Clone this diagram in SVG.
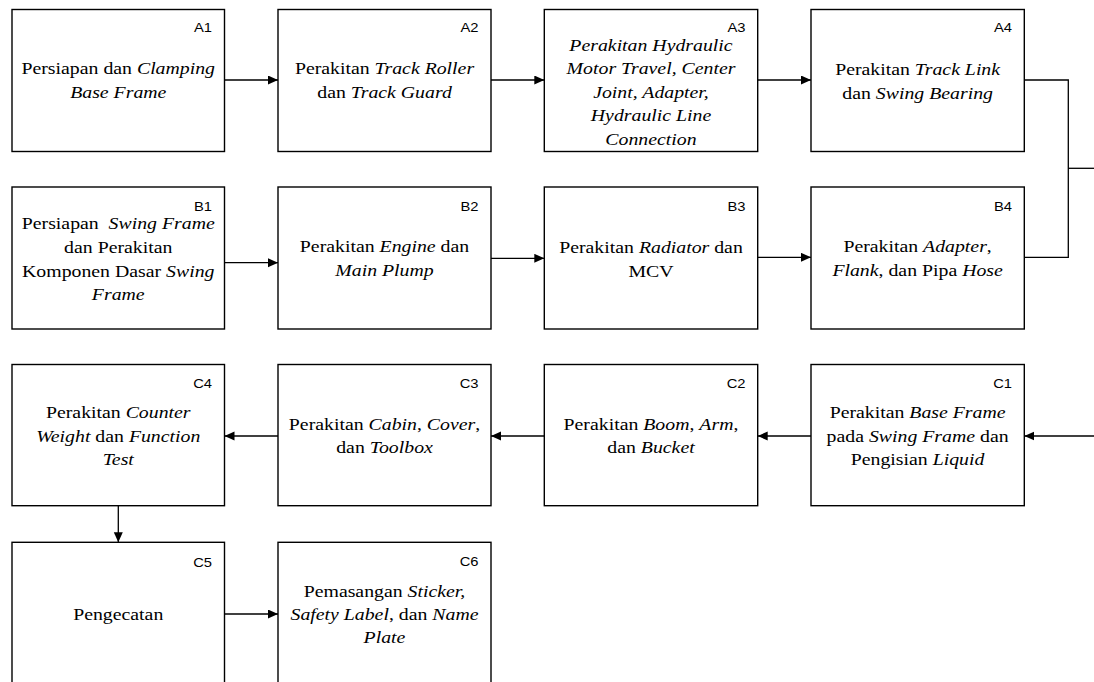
<svg xmlns="http://www.w3.org/2000/svg" width="1094" height="682" viewBox="0 0 1094 682">
<style>
rect.box{fill:#fff;stroke:#000;stroke-width:1.4}
.t{font-family:'Liberation Serif','DejaVu Serif',serif;font-size:16.5px;text-anchor:middle;fill:#000}
.i{font-style:italic}
.pre{white-space:pre}
.lbl{font-family:'Liberation Sans',Arial,sans-serif;font-size:12.3px;text-anchor:end;fill:#000}
.c{fill:none;stroke:#000;stroke-width:1.3}
</style>
<defs>
<marker id="ah" markerUnits="userSpaceOnUse" markerWidth="11" markerHeight="10" refX="10" refY="4.5" orient="auto">
<path d="M0,0 L10,4.5 L0,9 z" fill="#000"/>
</marker>
</defs>
<rect width="1094" height="682" fill="#fff"/>

<g id="connectors">
<path class="c" d="M224.5,80 H278" marker-end="url(#ah)"/>
<path class="c" d="M491,80 H544.3" marker-end="url(#ah)"/>
<path class="c" d="M757.7,80 H811" marker-end="url(#ah)"/>
<path class="c" d="M224.5,262.7 H278" marker-end="url(#ah)"/>
<path class="c" d="M491,258.3 H544.3" marker-end="url(#ah)"/>
<path class="c" d="M757.7,257.3 H811" marker-end="url(#ah)"/>
<path class="c" d="M1024.3,80 H1068.3 V257.3 H1024.3"/>
<path class="c" d="M1068.3,168.3 H1094"/>
<path class="c" d="M1094,436 H1024.3" marker-end="url(#ah)"/>
<path class="c" d="M811,436 H757.7" marker-end="url(#ah)"/>
<path class="c" d="M544.3,436 H491" marker-end="url(#ah)"/>
<path class="c" d="M278,436 H224.5" marker-end="url(#ah)"/>
<path class="c" d="M118.3,505.7 V542.3" marker-end="url(#ah)"/>
<path class="c" d="M224.5,614 H278" marker-end="url(#ah)"/>
</g>

<g id="A1">
<rect class="box" x="12" y="9.5" width="212.5" height="142"/>
<text class="lbl" transform="translate(212 32) scale(1.2 1)">A1</text>
<g class="t" transform="translate(118.25 0) scale(1.2 1)">
<text x="0" y="74">Persiapan dan <tspan class="i">Clamping</tspan></text>
<text x="0" y="98" class="i">Base Frame</text>
</g>
</g>

<g id="A2">
<rect class="box" x="278" y="9.5" width="213" height="142"/>
<text class="lbl" transform="translate(478.5 32) scale(1.2 1)">A2</text>
<g class="t" transform="translate(384.5 0) scale(1.2 1)">
<text x="0" y="74">Perakitan <tspan class="i">Track Roller</tspan></text>
<text x="0" y="98">dan <tspan class="i">Track Guard</tspan></text>
</g>
</g>

<g id="A3">
<rect class="box" x="544.3" y="9.5" width="213.4" height="142"/>
<text class="lbl" transform="translate(745.5 32) scale(1.2 1)">A3</text>
<g class="t" transform="translate(651 0) scale(1.2 1)">
<text x="0" y="51" class="i">Perakitan Hydraulic</text>
<text x="0" y="74.5" class="i">Motor Travel, Center</text>
<text x="0" y="98" class="i">Joint, Adapter,</text>
<text x="0" y="121.5" class="i">Hydraulic Line</text>
<text x="0" y="145" class="i">Connection</text>
</g>
</g>

<g id="A4">
<rect class="box" x="811" y="9.5" width="213.3" height="142"/>
<text class="lbl" transform="translate(1012 32) scale(1.2 1)">A4</text>
<g class="t" transform="translate(917.6 0) scale(1.2 1)">
<text x="0" y="75">Perakitan <tspan class="i">Track Link</tspan></text>
<text x="0" y="99">dan <tspan class="i">Swing Bearing</tspan></text>
</g>
</g>

<g id="B1">
<rect class="box" x="12" y="187" width="212.5" height="142"/>
<text class="lbl" transform="translate(212 210.5) scale(1.2 1)">B1</text>
<g class="t" transform="translate(118.25 0) scale(1.2 1)">
<text x="0" y="229" class="pre">Persiapan  <tspan class="i">Swing Frame</tspan></text>
<text x="0" y="253">dan Perakitan</text>
<text x="0" y="277">Komponen Dasar <tspan class="i">Swing</tspan></text>
<text x="0" y="300.5" class="i">Frame</text>
</g>
</g>

<g id="B2">
<rect class="box" x="278" y="187" width="213" height="142"/>
<text class="lbl" transform="translate(478.5 210.5) scale(1.2 1)">B2</text>
<g class="t" transform="translate(384.5 0) scale(1.2 1)">
<text x="0" y="252">Perakitan <tspan class="i">Engine</tspan> dan</text>
<text x="0" y="276" class="i">Main Plump</text>
</g>
</g>

<g id="B3">
<rect class="box" x="544.3" y="187" width="213.4" height="142"/>
<text class="lbl" transform="translate(745.5 210.5) scale(1.2 1)">B3</text>
<g class="t" transform="translate(651 0) scale(1.2 1)">
<text x="0" y="253">Perakitan <tspan class="i">Radiator</tspan> dan</text>
<text x="0" y="276.7">MCV</text>
</g>
</g>

<g id="B4">
<rect class="box" x="811" y="187" width="213.3" height="142"/>
<text class="lbl" transform="translate(1012 210.5) scale(1.2 1)">B4</text>
<g class="t" transform="translate(917.6 0) scale(1.2 1)">
<text x="0" y="252">Perakitan <tspan class="i">Adapter</tspan>,</text>
<text x="0" y="276.5"><tspan class="i">Flank</tspan>, dan Pipa <tspan class="i">Hose</tspan></text>
</g>
</g>

<g id="C1">
<rect class="box" x="811" y="364.5" width="213.3" height="141.2"/>
<text class="lbl" transform="translate(1012 387.5) scale(1.2 1)">C1</text>
<g class="t" transform="translate(917.6 0) scale(1.2 1)">
<text x="0" y="418.3">Perakitan <tspan class="i">Base Frame</tspan></text>
<text x="0" y="441.7">pada <tspan class="i">Swing Frame</tspan> dan</text>
<text x="0" y="465">Pengisian <tspan class="i">Liquid</tspan></text>
</g>
</g>

<g id="C2">
<rect class="box" x="544.3" y="364.5" width="213.4" height="141.2"/>
<text class="lbl" transform="translate(745.5 387.5) scale(1.2 1)">C2</text>
<g class="t" transform="translate(651 0) scale(1.2 1)">
<text x="0" y="430">Perakitan <tspan class="i">Boom</tspan>, <tspan class="i">Arm</tspan>,</text>
<text x="0" y="453.3">dan <tspan class="i">Bucket</tspan></text>
</g>
</g>

<g id="C3">
<rect class="box" x="278" y="364.5" width="213" height="141.2"/>
<text class="lbl" transform="translate(478.5 387.5) scale(1.2 1)">C3</text>
<g class="t" transform="translate(384.5 0) scale(1.2 1)">
<text x="0" y="430.5">Perakitan <tspan class="i">Cabin</tspan>, <tspan class="i">Cover</tspan>,</text>
<text x="0" y="453.3">dan <tspan class="i">Toolbox</tspan></text>
</g>
</g>

<g id="C4">
<rect class="box" x="12" y="364.5" width="212.5" height="141.2"/>
<text class="lbl" transform="translate(212 387.5) scale(1.2 1)">C4</text>
<g class="t" transform="translate(118.25 0) scale(1.2 1)">
<text x="0" y="418.3">Perakitan <tspan class="i">Counter</tspan></text>
<text x="0" y="441.7"><tspan class="i">Weight</tspan> dan <tspan class="i">Function</tspan></text>
<text x="0" y="465" class="i">Test</text>
</g>
</g>

<g id="C5">
<rect class="box" x="12" y="542.3" width="212.5" height="150"/>
<text class="lbl" transform="translate(212 566.5) scale(1.2 1)">C5</text>
<g class="t" transform="translate(118.25 0) scale(1.2 1)">
<text x="0" y="620">Pengecatan</text>
</g>
</g>

<g id="C6">
<rect class="box" x="278" y="542.3" width="213" height="150"/>
<text class="lbl" transform="translate(478.5 566) scale(1.2 1)">C6</text>
<g class="t" transform="translate(384.5 0) scale(1.2 1)">
<text x="0" y="596.7">Pemasangan <tspan class="i">Sticker,</tspan></text>
<text x="0" y="620"><tspan class="i">Safety Label</tspan>, dan <tspan class="i">Name</tspan></text>
<text x="0" y="643.3" class="i">Plate</text>
</g>
</g>
</svg>
